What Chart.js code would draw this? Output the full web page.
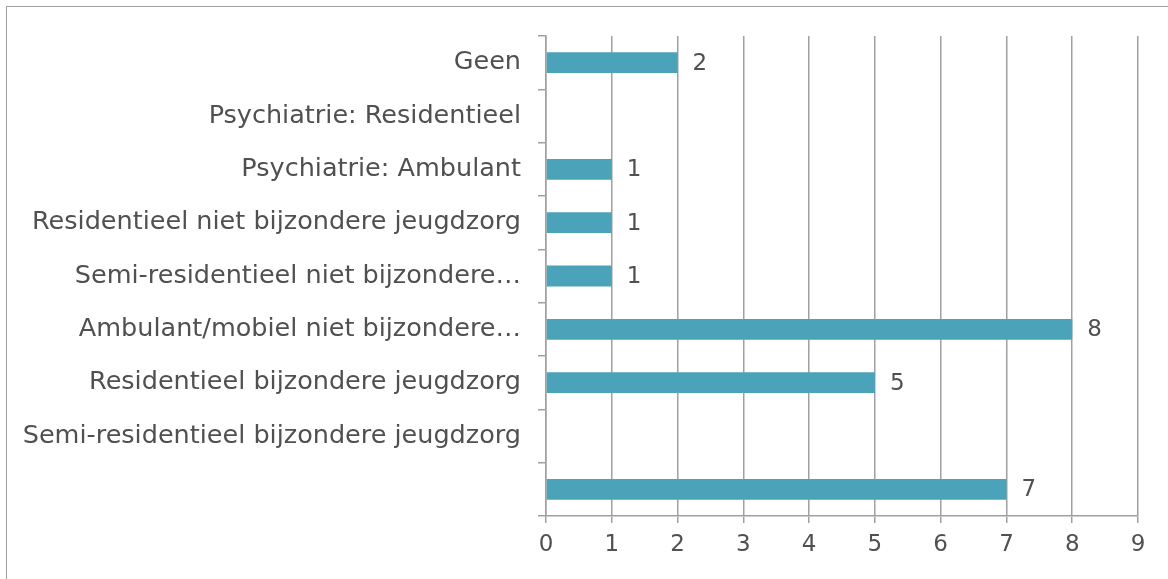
<!DOCTYPE html>
<html>
<head>
<meta charset="utf-8">
<script src="https://cdn.jsdelivr.net/npm/chart.js@4/dist/chart.umd.min.js"></script>
<style>
  html, body { margin: 0; padding: 0; background: #fff; overflow: hidden; }
  #wrap { position: relative; width: 1168px; height: 579px; }
  #frame { position: absolute; left: 6px; top: 6px; width: 1200px; height: 600px;
           border-top: 1.5px solid #a0a0a0; border-left: 1.5px solid #a0a0a0; }
  canvas { position: absolute; left: 0; top: 0; }
</style>
</head>
<body>
<div id="wrap">
  <div id="frame"></div>
  <canvas id="c" width="1168" height="579"></canvas>
</div>
<script>
const categories = [
  "Geen",
  "Psychiatrie: Residentieel",
  "Psychiatrie: Ambulant",
  "Residentieel niet bijzondere jeugdzorg",
  "Semi-residentieel niet bijzondere…",
  "Ambulant/mobiel niet bijzondere…",
  "Residentieel bijzondere jeugdzorg",
  "Semi-residentieel bijzondere jeugdzorg",
  ""
];
const values = [2, null, 1, 1, 1, 8, 5, null, 7];
const xTicks = [0, 1, 2, 3, 4, 5, 6, 7, 8, 9];

const FONT = "'DejaVu Sans', sans-serif";
const TEXT = "#505050";

const valueLabels = {
  id: 'valueLabels',
  afterDatasetsDraw(chart) {
    const ctx = chart.ctx;
    const meta = chart.getDatasetMeta(0);
    ctx.save();
    ctx.font = "23px " + FONT;
    ctx.fillStyle = TEXT;
    ctx.textAlign = 'left';
    ctx.textBaseline = 'middle';
    meta.data.forEach((bar, i) => {
      const v = values[i];
      if (v === null || v === undefined) return;
      ctx.fillText(String(v), bar.x + 15, bar.y + 1);
    });
    ctx.restore();
  }
};

new Chart(document.getElementById('c'), {
  type: 'bar',
  data: {
    labels: categories,
    datasets: [{
      data: values,
      backgroundColor: '#4AA3B8',
      borderWidth: 0,
      barPercentage: 0.8,
      categoryPercentage: 0.49
    }]
  },
  options: {
    indexAxis: 'y',
    responsive: false,
    animation: false,
    devicePixelRatio: 1,
    layout: { padding: { left: 0, top: 36, right: 30, bottom: 0 } },
    plugins: { legend: { display: false }, tooltip: { enabled: false } },
    scales: {
      x: {
        min: 0, max: 9,
        afterBuildTicks(scale) { scale.ticks = xTicks.map(v => ({ value: v })); },
        afterFit(scale) { scale.height = 63; },
        grid: { color: '#a0a0a0', lineWidth: 1.5, drawTicks: true, tickLength: 7, tickColor: '#a0a0a0' },
        border: { color: '#a0a0a0', width: 1.5 },
        ticks: { color: TEXT, font: { family: FONT, size: 23 }, padding: 8, maxRotation: 0 }
      },
      y: {
        afterFit(scale) { scale.width = 546; },
        grid: { offset: true, drawOnChartArea: false, drawTicks: true, tickLength: 8, color: '#a0a0a0', lineWidth: 1.5 },
        border: { color: '#a0a0a0', width: 1.5 },
        ticks: { color: TEXT, font: { family: FONT, size: 25.5 }, padding: 17, autoSkip: false }
      }
    }
  },
  plugins: [valueLabels]
});
</script>
</body>
</html>
